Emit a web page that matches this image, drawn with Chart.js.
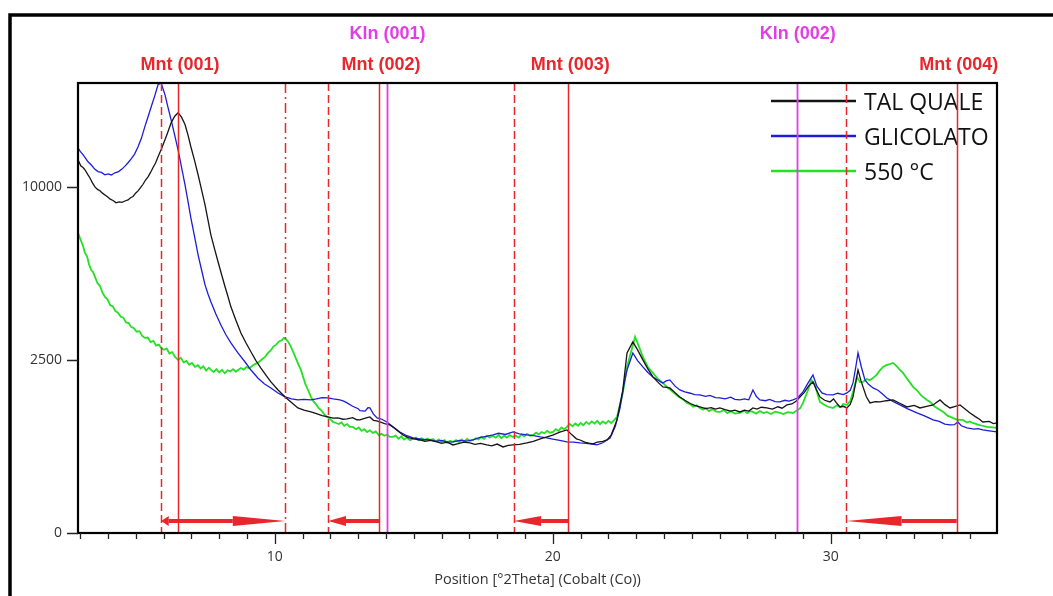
<!DOCTYPE html>
<html>
<head>
<meta charset="utf-8">
<script src="https://cdn.jsdelivr.net/npm/chart.js@4.4.1/dist/chart.umd.min.js"></script>
<style>
  html, body { margin: 0; padding: 0; background: #fff; }
  #wrap { width: 1053px; height: 596px; position: relative; }
</style>
</head>
<body>
<div id="wrap"><canvas id="xrd" width="1053" height="596"></canvas></div>
<script>
// ---- Diffractogram data: 2θ positions (°, Co Kα) and intensities (counts) ----
const talQualeTheta = [2.92,3.02,3.10,3.17,3.28,3.35,3.44,3.53,3.62,3.71,3.80,3.89,3.98,4.08,4.18,4.29,4.40,4.50,4.61,4.72,4.81,4.90,5.00,5.08,5.17,5.26,5.35,5.44,5.53,5.62,5.71,5.80,5.92,6.05,6.16,6.27,6.40,6.52,6.64,6.77,6.88,6.98,7.11,7.24,7.37,7.49,7.60,7.70,7.83,7.96,8.08,8.21,8.32,8.42,8.60,8.78,8.96,9.14,9.32,9.50,9.68,9.86,10.10,10.37,10.60,10.83,11.05,11.30,11.50,11.70,11.91,12.10,12.27,12.45,12.60,12.80,12.95,13.06,13.20,13.32,13.42,13.55,13.66,13.78,13.95,14.14,14.30,14.45,14.61,14.80,15.00,15.22,15.40,15.60,15.83,16.00,16.20,16.41,16.60,16.80,17.02,17.20,17.40,17.63,17.80,18.00,18.21,18.40,18.57,18.80,19.07,19.30,19.55,19.79,20.00,20.25,20.51,20.70,20.85,20.98,21.15,21.30,21.45,21.60,21.80,21.95,22.10,22.31,22.52,22.67,22.88,23.05,23.24,23.42,23.60,23.78,23.96,24.10,24.21,24.40,24.57,24.75,24.95,25.10,25.29,25.50,25.70,25.85,26.01,26.20,26.40,26.55,26.73,26.90,27.05,27.20,27.35,27.50,27.70,27.90,28.10,28.25,28.42,28.60,28.75,28.89,29.05,29.20,29.36,29.48,29.61,29.78,29.97,30.10,30.20,30.33,30.45,30.58,30.70,30.80,30.90,30.98,31.08,31.16,31.28,31.41,31.60,31.77,32.00,32.24,32.50,32.74,33.00,33.21,33.45,33.68,33.80,33.93,34.10,34.29,34.48,34.65,34.82,35.01,35.20,35.35,35.47,35.70,35.85,35.98];
const talQualeCounts = [11620,11250,11150,11010,10700,10520,10230,10000,9850,9780,9640,9540,9430,9300,9230,9100,9150,9120,9200,9260,9380,9450,9650,9770,9950,10150,10400,10590,10850,11150,11420,11810,12300,12900,13450,14040,14500,14740,14450,13920,13200,12450,11600,10710,9800,8990,8150,7420,6750,6130,5600,5060,4650,4270,3780,3340,3020,2740,2480,2270,2080,1905,1720,1545,1420,1305,1260,1223,1190,1150,1124,1100,1105,1080,1086,1110,1070,1067,1090,1110,1124,1060,1050,1029,1000,974,920,860,802,760,740,722,700,715,692,670,690,647,665,690,677,655,670,647,635,660,618,640,647,655,677,700,740,770,800,850,886,800,740,722,690,675,662,690,700,722,800,1067,1708,2706,3047,2800,2500,2250,2033,1900,1781,1770,1756,1640,1545,1470,1400,1360,1326,1290,1310,1280,1305,1270,1240,1260,1223,1260,1240,1305,1280,1320,1305,1280,1330,1300,1369,1390,1450,1545,1650,1800,1905,1720,1545,1470,1433,1500,1420,1326,1340,1305,1380,1545,1900,2219,1950,1781,1550,1412,1440,1433,1460,1478,1400,1326,1360,1305,1340,1369,1420,1478,1380,1305,1340,1369,1290,1203,1130,1080,1029,1040,1000,1011];

const glicolatoTheta = [2.92,3.00,3.10,3.20,3.28,3.40,3.52,3.64,3.76,3.89,4.00,4.12,4.25,4.38,4.50,4.62,4.72,4.84,4.96,5.08,5.20,5.32,5.44,5.56,5.68,5.80,5.91,6.05,6.16,6.27,6.40,6.52,6.64,6.77,6.88,6.98,7.11,7.24,7.37,7.49,7.60,7.70,7.88,8.06,8.24,8.42,8.68,8.93,9.15,9.39,9.62,9.86,10.10,10.37,10.60,10.83,11.05,11.30,11.50,11.70,11.91,12.10,12.34,12.48,12.60,12.80,13.00,13.06,13.25,13.35,13.42,13.55,13.68,13.85,14.03,14.25,14.50,14.75,14.97,15.25,15.58,15.80,16.00,16.20,16.41,16.65,16.90,17.13,17.35,17.60,17.85,18.05,18.30,18.57,18.80,19.07,19.30,19.55,19.79,20.00,20.25,20.51,20.75,20.98,21.20,21.40,21.59,21.80,22.06,22.25,22.42,22.55,22.67,22.88,23.05,23.24,23.42,23.60,23.78,23.96,24.08,24.21,24.40,24.57,24.75,24.95,25.10,25.29,25.50,25.65,25.85,26.01,26.20,26.40,26.55,26.73,26.90,27.05,27.20,27.32,27.45,27.65,27.80,28.00,28.17,28.35,28.50,28.64,28.80,29.00,29.20,29.36,29.50,29.68,29.85,30.08,30.25,30.45,30.58,30.70,30.80,30.90,30.98,31.10,31.23,31.35,31.52,31.70,31.85,32.02,32.25,32.49,32.75,33.10,33.35,33.55,33.68,33.90,34.10,34.29,34.45,34.57,34.70,34.90,35.15,35.30,35.47,35.70,35.98];
const glicolatoCounts = [12380,12150,11950,11700,11500,11300,11050,10900,10850,10710,10760,10700,10830,10900,11050,11250,11440,11700,12000,12450,13000,13750,14460,15200,15950,16770,16900,16020,15100,14250,13200,12250,11200,10120,9150,8290,7350,6460,5750,5140,4760,4460,4000,3610,3280,3015,2700,2440,2210,2007,1860,1756,1640,1545,1500,1478,1490,1478,1500,1530,1522,1500,1478,1450,1412,1340,1290,1250,1240,1310,1305,1180,1105,1080,1029,940,852,790,754,735,722,700,715,690,692,715,705,722,760,780,802,830,810,852,820,802,790,770,754,735,715,692,690,677,670,660,647,680,754,950,1305,1800,2219,2706,2480,2302,2150,2033,1950,1879,1930,1955,1800,1708,1660,1630,1600,1591,1560,1580,1530,1522,1500,1540,1490,1478,1500,1480,1708,1560,1478,1460,1490,1440,1433,1470,1450,1478,1520,1661,1900,2085,1800,1637,1600,1591,1630,1600,1637,1700,1879,2300,2706,2300,1955,1850,1756,1700,1620,1522,1440,1369,1290,1203,1150,1100,1067,1040,990,974,980,1029,960,921,900,910,886,870,852];

const riscaldatoTheta = [2.92,3.02,3.10,3.17,3.25,3.32,3.39,3.46,3.53,3.62,3.71,3.80,3.89,3.98,4.08,4.17,4.26,4.36,4.46,4.55,4.65,4.74,4.83,4.93,5.03,5.13,5.23,5.33,5.43,5.53,5.63,5.73,5.83,5.91,6.01,6.11,6.21,6.31,6.42,6.52,6.62,6.72,6.82,6.92,7.02,7.13,7.23,7.33,7.43,7.53,7.63,7.70,7.80,7.90,8.00,8.10,8.20,8.30,8.40,8.50,8.60,8.68,8.78,8.88,8.98,9.08,9.14,9.24,9.34,9.44,9.54,9.65,9.75,9.85,9.95,10.05,10.15,10.25,10.32,10.42,10.50,10.58,10.68,10.78,10.86,10.94,11.02,11.10,11.20,11.30,11.40,11.50,11.58,11.66,11.76,11.86,11.96,12.09,12.20,12.30,12.40,12.50,12.60,12.70,12.81,12.92,13.02,13.12,13.22,13.32,13.42,13.53,13.63,13.74,13.84,13.94,14.04,14.14,14.25,14.35,14.45,14.55,14.65,14.75,14.86,14.97,15.08,15.18,15.28,15.38,15.48,15.58,15.69,15.80,15.90,16.00,16.10,16.20,16.30,16.41,16.52,16.62,16.72,16.82,16.92,17.02,17.13,17.23,17.33,17.43,17.53,17.63,17.73,17.85,17.95,18.05,18.15,18.25,18.35,18.45,18.57,18.67,18.77,18.87,18.97,19.07,19.18,19.29,19.40,19.50,19.60,19.70,19.80,19.90,20.01,20.11,20.21,20.31,20.41,20.51,20.61,20.71,20.81,20.91,21.00,21.10,21.20,21.30,21.40,21.50,21.60,21.70,21.80,21.90,22.00,22.10,22.20,22.31,22.52,22.67,22.96,23.10,23.24,23.42,23.60,23.78,23.96,24.14,24.32,24.50,24.66,24.83,24.95,25.05,25.17,25.29,25.40,25.50,25.62,25.75,25.88,26.01,26.15,26.28,26.40,26.55,26.73,26.88,27.00,27.10,27.20,27.32,27.45,27.58,27.70,27.85,28.00,28.17,28.30,28.45,28.64,28.78,28.90,29.00,29.18,29.30,29.42,29.61,29.75,29.90,30.08,30.22,30.35,30.45,30.58,30.70,30.82,30.94,31.05,31.16,31.30,31.40,31.52,31.64,31.76,31.88,32.00,32.12,32.24,32.36,32.48,32.60,32.72,32.84,32.96,33.10,33.25,33.46,33.60,33.75,33.93,34.05,34.20,34.39,34.55,34.75,34.90,35.00,35.11,35.30,35.45,35.62,35.80,35.98];
const riscaldatoCounts = [7518,7150,6880,6549,6380,6010,5778,5690,5474,5210,5090,4820,4652,4560,4330,4290,4120,4043,3900,3870,3700,3680,3545,3500,3380,3400,3240,3176,3190,3040,3080,2930,2960,2859,2800,2840,2690,2730,2580,2500,2560,2430,2470,2360,2410,2302,2350,2260,2320,2200,2280,2219,2160,2240,2150,2220,2130,2210,2180,2240,2170,2219,2270,2230,2300,2260,2302,2360,2400,2450,2520,2587,2700,2780,2900,2960,3060,3100,3176,3120,3020,2890,2700,2500,2350,2219,2030,1850,1700,1545,1440,1370,1300,1264,1190,1130,1100,1029,1010,990,1020,960,990,940,939,900,930,870,900,850,880,835,860,800,820,790,810,770,770,790,740,780,730,760,720,738,760,720,750,715,745,720,738,700,730,690,720,680,710,692,720,690,730,700,740,710,722,750,730,770,740,790,760,786,760,800,750,790,760,800,770,790,760,810,780,820,790,802,840,810,850,830,870,840,852,900,870,930,900,939,990,950,1000,960,1010,970,1030,990,1040,1000,1050,990,1040,1000,1050,1010,1060,1124,1637,2302,3209,2900,2587,2300,2138,1980,1879,1760,1661,1560,1500,1412,1380,1330,1360,1305,1270,1300,1240,1280,1230,1223,1260,1200,1240,1190,1203,1250,1200,1240,1223,1190,1240,1200,1223,1180,1230,1203,1180,1220,1203,1250,1300,1412,1700,1955,1850,1433,1380,1330,1305,1360,1320,1390,1369,1450,1700,2033,1900,1905,1980,1950,2007,2080,2200,2302,2350,2380,2414,2330,2230,2138,2010,1900,1781,1700,1580,1478,1420,1330,1264,1220,1150,1105,1070,1067,1020,1040,1011,980,960,939,930,921];

const seriesLabels = ['TAL QUALE', 'GLICOLATO', '550 °C'];

// ---- Axis ticks ----
const xMajorTicks = [10, 20, 30];
const yTicks = [0, 2500, 10000];

// ---- Reflection markers (°2θ) ----
const mntLabels = ['Mnt (001)', 'Mnt (002)', 'Mnt (003)', 'Mnt (004)'];
const mntPositions = [6.52, 13.75, 20.56, 34.53];
const mntGlycolated = [5.91, 11.92, 18.60, 30.56];
const mntHeated = [10.38];
const klnLabels = ['Kln (001)', 'Kln (002)'];
const klnPositions = [14.02, 28.78];
const shiftFrom = [6.52, 6.52, 13.75, 20.56, 34.53];
const shiftTo = [5.91, 10.38, 11.92, 18.60, 30.56];

// Square-root intensity axis, as used for diffractograms
class SqrtScale extends Chart.LinearScale {
  getPixelForValue(value) {
    const lo = Math.sqrt(Math.max(this.min, 0));
    const hi = Math.sqrt(this.max);
    return this.getPixelForDecimal((Math.sqrt(Math.max(value, 0)) - lo) / (hi - lo));
  }
  getValueForPixel(pixel) {
    const lo = Math.sqrt(Math.max(this.min, 0));
    const hi = Math.sqrt(this.max);
    const v = lo + this.getDecimalForPixel(pixel) * (hi - lo);
    return v * v;
  }
}
SqrtScale.id = 'sqrt';
SqrtScale.defaults = Chart.LinearScale.defaults;
Chart.register(SqrtScale);

const RED = '#e8262b';
const MAGENTA = '#e23ee6';
const TEXT = '#333';

const toPoints = (xs, ys) => xs.map((v, i) => ({ x: v, y: ys[i] }));

const xrdMarks = {
  id: 'xrdMarks',
  beforeDraw(chart) {
    const ctx = chart.ctx;
    ctx.save();
    ctx.fillStyle = '#fff';
    ctx.fillRect(0, 0, chart.width, chart.height);
    ctx.restore();
  },
  afterDatasetsDraw(chart, args, opts) {
    const { ctx, chartArea: a, scales: { x } } = chart;
    ctx.save();

    // legend inside the plot, top right
    chart.data.datasets.forEach((ds, i) => {
      const ly = a.top + 18 + i * 35;
      ctx.strokeStyle = ds.borderColor;
      ctx.lineWidth = 2.5;
      ctx.beginPath();
      ctx.moveTo(a.right - 226, ly);
      ctx.lineTo(a.right - 141, ly);
      ctx.stroke();
      ctx.fillStyle = '#111';
      ctx.font = '23px "Open Sans"';
      ctx.textAlign = 'left';
      ctx.textBaseline = 'middle';
      ctx.fillText(ds.label, a.right - 133, ly + 2);
    });

    const vline = (val, color, dash, width) => {
      const px = Math.round(x.getPixelForValue(val)) + 0.5;
      ctx.strokeStyle = color;
      ctx.lineWidth = width;
      ctx.setLineDash(dash);
      ctx.beginPath();
      ctx.moveTo(px, a.top);
      ctx.lineTo(px, a.bottom);
      ctx.stroke();
    };
    mntGlycolated.forEach(v => vline(v, RED, [8, 4], 1.5));
    mntHeated.forEach(v => vline(v, RED, [10, 4, 2, 4], 1.5));
    mntPositions.forEach(v => vline(v, RED, [], 1.5));
    klnPositions.forEach(v => vline(v, MAGENTA, [], 1.8));
    ctx.setLineDash([]);

    // shift arrows along the base of the plot
    const ya = a.bottom - 12;
    shiftFrom.forEach((f, i) => {
      const x0 = x.getPixelForValue(f);
      const x1 = x.getPixelForValue(shiftTo[i]);
      const head = (x1 - x0) * opts.headFraction[i];
      const xh = x1 - head;
      ctx.fillStyle = RED;
      ctx.fillRect(Math.min(x0, xh), ya - 2, Math.abs(xh - x0), 4);
      ctx.beginPath();
      ctx.moveTo(xh, ya - 5);
      ctx.lineTo(x1, ya);
      ctx.lineTo(xh, ya + 5);
      ctx.closePath();
      ctx.fill();
    });

    // reflection labels above the plot
    ctx.font = 'bold 18px "Liberation Sans"';
    ctx.textAlign = 'center';
    ctx.textBaseline = 'middle';
    ctx.fillStyle = RED;
    mntPositions.forEach((v, i) => ctx.fillText(mntLabels[i], x.getPixelForValue(v) + 2, a.top - 18));
    ctx.fillStyle = MAGENTA;
    klnPositions.forEach((v, i) => ctx.fillText(klnLabels[i], x.getPixelForValue(v) + 1, a.top - 49));
    ctx.restore();
  },
  afterDraw(chart) {
    const { ctx, chartArea: a, scales: { x, y } } = chart;
    ctx.save();
    // page frame
    ctx.strokeStyle = '#000';
    ctx.lineWidth = 3.5;
    ctx.strokeRect(10, 15, chart.width + 40, chart.height + 40);
    // plot frame
    ctx.lineWidth = 2.2;
    ctx.strokeRect(a.left, a.top, a.right - a.left, a.bottom - a.top);
    // tick marks
    ctx.strokeStyle = '#222';
    ctx.lineWidth = 1.3;
    ctx.beginPath();
    for (let t = Math.ceil(x.min); t <= x.max; t++) {
      const px = Math.round(x.getPixelForValue(t)) + 0.5;
      const len = xMajorTicks.includes(t) ? 11 : 6;
      ctx.moveTo(px, a.bottom);
      ctx.lineTo(px, a.bottom + len);
    }
    yTicks.forEach(v => {
      const py = Math.round(y.getPixelForValue(v)) + 0.5;
      ctx.moveTo(a.left, py);
      ctx.lineTo(a.left - 11, py);
    });
    ctx.stroke();
    ctx.restore();
  }
};

new Chart(document.getElementById('xrd'), {
  type: 'line',
  data: {
    datasets: [
      { label: seriesLabels[0], data: toPoints(talQualeTheta, talQualeCounts), borderColor: '#151515', borderWidth: 1.3 },
      { label: seriesLabels[1], data: toPoints(glicolatoTheta, glicolatoCounts), borderColor: '#1d1dd8', borderWidth: 1.3 },
      { label: seriesLabels[2], data: toPoints(riscaldatoTheta, riscaldatoCounts), borderColor: '#25e025', borderWidth: 1.8 }
    ]
  },
  options: {
    responsive: false,
    animation: false,
    devicePixelRatio: 1,
    elements: { point: { radius: 0 }, line: { tension: 0 } },
    layout: { padding: { left: 0, top: 83, right: 56, bottom: 0 } },
    plugins: {
      legend: { display: false },
      tooltip: { enabled: false },
      xrdMarks: { headFraction: [0.45, 0.49, 0.35, 0.5, 0.5] }
    },
    scales: {
      x: {
        type: 'linear',
        min: 2.92,
        max: 35.98,
        afterBuildTicks: s => { s.ticks = xMajorTicks.map(v => ({ value: v })); },
        afterFit: s => { s.height = 63; },
        grid: { display: false },
        border: { display: false },
        ticks: { autoSkip: false, maxRotation: 0, padding: 8, color: TEXT, font: { family: 'Open Sans', size: 14 } },
        title: { display: true, text: 'Position [°2Theta] (Cobalt (Co))', color: TEXT, font: { family: 'Open Sans', size: 14.5 }, padding: { top: 0, bottom: 7 } }
      },
      y: {
        type: 'sqrt',
        min: 0,
        max: 16900,
        afterBuildTicks: s => { s.ticks = yTicks.map(v => ({ value: v })); },
        afterFit: s => { s.width = 78; },
        grid: { display: false },
        border: { display: false },
        ticks: { padding: 8, color: TEXT, font: { family: 'Open Sans', size: 14 }, callback: v => String(v) }
      }
    }
  },
  plugins: [xrdMarks]
});
</script>
</body>
</html>
